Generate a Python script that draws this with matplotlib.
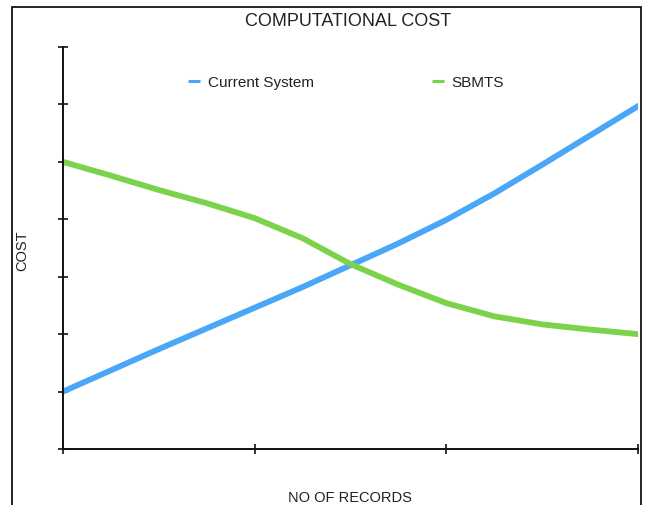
import matplotlib
matplotlib.use("Agg")
import matplotlib.pyplot as plt
from matplotlib.patches import Rectangle

plt.rcParams['font.family'] = ['Liberation Sans', 'DejaVu Sans']

# values
records = [0, 0.25, 0.5, 0.75, 1.0, 1.25, 1.5, 1.75, 2.0, 2.25, 2.5, 2.75, 3.0]
current_system = [1.0, 1.37, 1.74, 2.1, 2.46, 2.82, 3.2, 3.58, 3.99, 4.45, 4.95, 5.46, 5.97]
sbmts = [5.0, 4.76, 4.51, 4.28, 4.02, 3.67, 3.22, 2.86, 2.54, 2.31, 2.17, 2.08, 2.0]
y_ticks = [0, 1, 2, 3, 4, 5, 6, 7]
x_ticks = [0, 1, 2, 3]

W, H = 645, 506
fig = plt.figure(figsize=(W / 100, H / 100), dpi=100)

# outer black frame (bottom edge runs off the image)
fig.patches.append(Rectangle((12 / W, -0.1), (641 - 12) / W, 1.1 - 8 / H,
                             transform=fig.transFigure, fill=False,
                             edgecolor="black", linewidth=1.2))

ax = fig.add_axes([63 / W, 1 - 450 / H, (638 - 63) / W, (450 - 48) / H])

ax.plot(records, current_system, color="#4aa6f7", linewidth=4.2,
        solid_joinstyle="round", label="Current System")
ax.plot(records, sbmts, color="#7cd24b", linewidth=4.2,
        solid_joinstyle="round", label="SBMTS")

ax.set_xlim(0, 3)
ax.set_ylim(0, 7)
ax.set_xticks(x_ticks)
ax.set_yticks(y_ticks)
ax.set_xticklabels([])
ax.set_yticklabels([])
ax.tick_params(direction="inout", length=7, width=1.2, color="#111111")
for s in ["top", "right"]:
    ax.spines[s].set_visible(False)
for s in ["left", "bottom"]:
    ax.spines[s].set_linewidth(1.4)
    ax.spines[s].set_color("#111111")
    ax.spines[s].set_zorder(5)

fig.text(348 / W, 1 - 21 / H, "COMPUTATIONAL COST", ha="center", va="center",
         fontsize=13, color="#222222")
fig.text(22 / W, 1 - 251 / H, "COST", ha="center", va="center", rotation=90,
         fontsize=10.5, color="#222222")
fig.text(350 / W, 1 - 498 / H, "NO OF RECORDS", ha="center", va="center",
         fontsize=10.5, color="#222222")

leg = fig.legend(loc="center", bbox_to_anchor=(346 / W, 1 - 83 / H), ncol=2,
                 frameon=False, fontsize=11, handlelength=0.8, handletextpad=0.5,
                 columnspacing=7.7, borderpad=0, borderaxespad=0)
for line in leg.get_lines():
    line.set_linewidth(2.2)
    line.set_solid_capstyle("butt")
for t in leg.get_texts():
    t.set_color("#222222")

fig.savefig("out.png", dpi=100)
